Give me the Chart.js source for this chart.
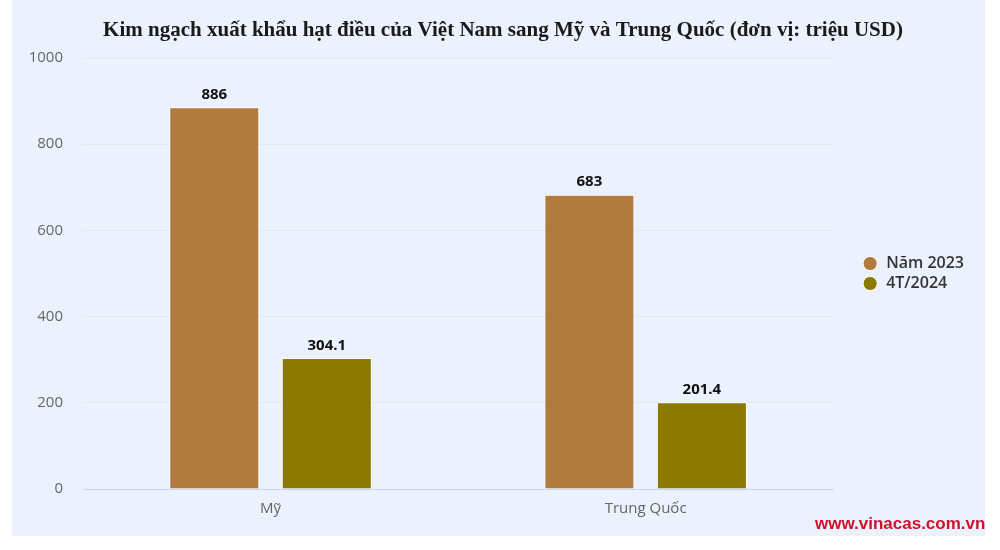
<!DOCTYPE html>
<html>
<head>
<meta charset="utf-8">
<script src="https://cdn.jsdelivr.net/npm/chart.js@4.4.1/dist/chart.umd.min.js"></script>
<style>
  html, body { margin: 0; padding: 0; background: #ffffff; }
  #wrap { position: relative; width: 1000px; height: 550px; }
  #c { position: absolute; left: 0; top: 0; }
  #wm { position: absolute; left: 815px; top: 514px; font-family: "Liberation Sans", Arial, sans-serif;
        font-weight: bold; font-size: 17px; color: #D0112B; letter-spacing: 0px; line-height: 20px; }
</style>
</head>
<body>
<div id="wrap">
  <canvas id="c" width="1000" height="550"></canvas>
  <div id="wm">www.vinacas.com.vn</div>
</div>
<script>
const categories = ["Mỹ", "Trung Quốc"];
const seriesNames = ["Năm 2023", "4T/2024"];
const values2023 = [886, 683];
const values4T2024 = [304.1, 201.4];
const yTicks = [0, 200, 400, 600, 800, 1000];
const titleText = "Kim ngạch xuất khẩu hạt điều của Việt Nam sang Mỹ và Trung Quốc (đơn vị: triệu USD)";

const bgPlugin = {
  id: 'panelBg',
  beforeDraw(chart) {
    const ctx = chart.ctx;
    ctx.save();
    ctx.fillStyle = '#EBF2FD';
    ctx.fillRect(12, 0, 973, 536);
    ctx.restore();
  }
};

const titlePlugin = {
  id: 'centerTitle',
  afterDraw(chart) {
    const ctx = chart.ctx;
    ctx.save();
    ctx.font = 'bold 21px "Liberation Serif", "Times New Roman", serif';
    ctx.fillStyle = '#1a1a1a';
    ctx.textAlign = 'center';
    ctx.textBaseline = 'middle';
    ctx.fillText(titleText, 503, 31);
    ctx.restore();
  }
};

const labelPlugin = {
  id: 'valueLabels',
  afterDatasetsDraw(chart) {
    const ctx = chart.ctx;
    ctx.save();
    ctx.font = 'bold 15px "Open Sans", sans-serif';
    ctx.fillStyle = '#111111';
    ctx.textAlign = 'center';
    ctx.textBaseline = 'bottom';
    chart.data.datasets.forEach((ds, i) => {
      const meta = chart.getDatasetMeta(i);
      meta.data.forEach((bar, j) => {
        ctx.fillText(String(ds.data[j]), bar.x, bar.y - 5);
      });
    });
    ctx.restore();
  }
};

new Chart(document.getElementById('c'), {
  type: 'bar',
  data: {
    labels: categories,
    datasets: [
      { label: seriesNames[0], data: values2023, backgroundColor: '#B17B3F', borderColor: '#ffffff', borderWidth: 1 },
      { label: seriesNames[1], data: values4T2024, backgroundColor: '#8B7900', borderColor: '#ffffff', borderWidth: 1 }
    ]
  },
  options: {
    responsive: false,
    animation: false,
    devicePixelRatio: 1,
    datasets: { bar: { categoryPercentage: 0.6, barPercentage: 0.8 } },
    layout: { padding: { left: 12, right: 26, top: 58, bottom: 21 } },
    plugins: {
      title: { display: false },
      legend: {
        position: 'right',
        align: 'center',
        fullSize: false,
        labels: {
          usePointStyle: true,
          pointStyle: 'circle',
          boxWidth: 16,
          boxHeight: 10,
          padding: 4,
          color: '#333333',
          font: { family: '"Open Sans", sans-serif', size: 16, weight: '600' }
        }
      },
      tooltip: { enabled: false }
    },
    scales: {
      x: {
        grid: { display: false, drawTicks: false },
        border: { display: true, color: '#CCD6EB', width: 1 },
        ticks: { color: '#666666', font: { family: '"Open Sans", sans-serif', size: 15 }, padding: 11 }
      },
      y: {
        min: 0, max: 1000,
        afterBuildTicks(scale) { scale.ticks = yTicks.map(v => ({ value: v })); },
        afterFit(scale) { scale.width = 71; },
        grid: { color: '#E2E8F0', drawTicks: false },
        border: { display: false },
        ticks: { color: '#666666', font: { family: '"Open Sans", sans-serif', size: 15 }, padding: 20,
                 callback: (v) => String(v) }
      },
      yRight: {
        position: 'right',
        display: true,
        min: 0, max: 1000,
        afterFit(scale) { scale.width = 25; },
        grid: { display: false, drawTicks: false },
        border: { display: false },
        ticks: { display: false }
      }
    }
  },
  plugins: [bgPlugin, labelPlugin, titlePlugin]
});
</script>
</body>
</html>
